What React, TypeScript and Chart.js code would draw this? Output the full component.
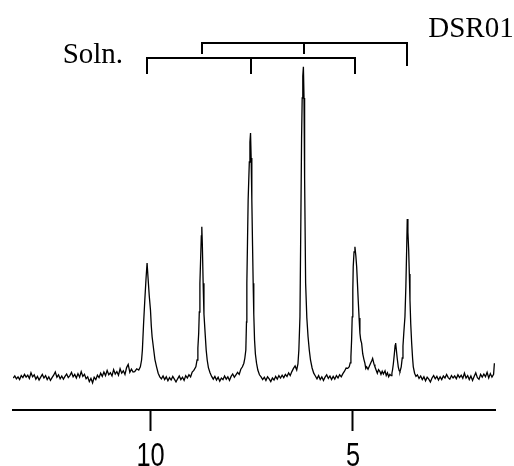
import React, { useEffect, useRef } from 'react';
import { Chart, registerables } from 'chart.js';

Chart.register(...registerables);

// Spectrum: [shift, intensity] (axis reversed, left = high shift)
const spectrum: [number, number][] = [
  [13.38, 0.0], [13.34, 0.5], [13.3, -0.2], [13.26, 0.3], [13.22, -0.4], [13.18, 0.6], [13.14, 0.1], [13.1, 0.9],
  [13.06, 0.2], [13.02, 0.7], [12.98, -0.1], [12.94, 1.3], [12.9, 0.3], [12.86, 0.8], [12.82, -0.3], [12.78, 0.4],
  [12.74, -0.5], [12.7, 0.2], [12.66, 0.9], [12.62, 0.0], [12.58, 0.6], [12.54, -0.4], [12.5, 0.3], [12.46, -0.6],
  [12.42, 0.1], [12.38, 0.7], [12.34, 1.5], [12.3, 0.2], [12.26, 0.8], [12.22, -0.2], [12.18, 0.5], [12.14, -0.3],
  [12.1, 0.4], [12.06, 1.0], [12.02, 0.1], [11.98, 0.6], [11.94, 1.4], [11.9, 0.3], [11.86, 0.9], [11.82, 0.0],
  [11.78, 1.1], [11.74, 0.2], [11.7, 1.6], [11.66, 0.4], [11.62, 0.9], [11.58, -0.2], [11.54, 0.3], [11.5, -0.9],
  [11.46, -0.1], [11.42, -1.2], [11.38, 0.2], [11.34, -0.4], [11.3, 0.7], [11.26, 0.1], [11.22, 1.2], [11.18, 0.4],
  [11.14, 1.5], [11.1, 0.6], [11.06, 1.9], [11.02, 0.8], [10.98, 1.3], [10.94, 0.5], [10.9, 2.1], [10.86, 1.0],
  [10.82, 1.6], [10.78, 0.7], [10.74, 2.3], [10.7, 1.2], [10.66, 1.8], [10.62, 0.9], [10.58, 2.6], [10.54, 3.4],
  [10.5, 1.4], [10.46, 2.2], [10.42, 1.5],
  // peak 1
  [10.38, 1.6], [10.33, 2.3], [10.28, 2.0], [10.24, 2.8], [10.21, 4.5], [10.19, 7.0], [10.16, 13.7], [10.13, 19.5],
  [10.1, 24.8], [10.074, 28.75], [10.05, 25.0], [10.02, 20.5], [9.99, 17.0], [9.97, 13.0], [9.95, 10.3], [9.91, 7.0],
  [9.88, 4.6], [9.84, 2.8], [9.8, 1.2], [9.76, 0.3],
  [9.72, -0.2], [9.68, 0.5], [9.64, -0.4], [9.6, 0.3], [9.56, -0.7], [9.52, 0.1], [9.48, -0.5], [9.44, 0.4],
  [9.4, -0.3], [9.36, -1.0], [9.32, -0.2], [9.28, 0.5], [9.24, -0.4], [9.2, 0.2], [9.16, -0.6], [9.12, 0.6],
  [9.08, 0.0], [9.04, 0.8], [9.0, 0.3], [8.96, 1.5], [8.92, 1.9],
  // peak 2
  [8.87, 2.8], [8.84, 4.5], [8.82, 7.5], [8.8, 11.2], [8.785, 16.5], [8.77, 23.7], [8.75, 30.5], [8.735, 35.5],
  [8.723, 37.8], [8.71, 33.5], [8.69, 23.7], [8.67, 16.0], [8.641, 11.2], [8.615, 7.0], [8.59, 4.5], [8.56, 2.6],
  [8.52, 1.3], [8.48, 0.4],
  [8.44, -0.3], [8.4, 0.4], [8.36, -0.5], [8.32, 0.2], [8.28, -0.8], [8.24, 0.0], [8.2, -0.4], [8.16, 0.5],
  [8.12, -0.3], [8.08, 0.3], [8.04, -0.6], [8.0, 0.4], [7.96, 1.0], [7.92, 0.2], [7.88, 0.8], [7.84, 1.4],
  [7.8, 0.9], [7.76, 2.2],
  // peak 3
  [7.72, 2.8], [7.685, 3.7], [7.66, 5.0], [7.636, 7.0], [7.62, 14.0], [7.611, 23.7], [7.595, 34.0], [7.579, 44.5],
  [7.55, 54.0], [7.535, 59.0], [7.52, 61.25], [7.505, 55.0], [7.488, 44.5], [7.47, 33.0], [7.455, 23.7], [7.44, 16.0],
  [7.421, 9.5], [7.4, 6.0], [7.372, 3.7], [7.34, 2.0], [7.3, 0.8],
  [7.26, 0.3], [7.22, -0.4], [7.18, 0.2], [7.14, -0.6], [7.1, 0.3], [7.06, -0.2], [7.02, -0.9], [6.98, 0.0],
  [6.94, -0.5], [6.9, 0.4], [6.86, -0.3], [6.82, 0.6], [6.78, 0.0], [6.74, 0.7], [6.7, 0.1], [6.66, 0.9],
  [6.62, 0.4], [6.58, 1.3], [6.54, 0.6], [6.5, 1.6], [6.46, 2.4], [6.42, 3.0],
  // peak 4
  [6.38, 2.0], [6.35, 3.5], [6.327, 7.0], [6.3, 15.3], [6.277, 40.3], [6.26, 60.0], [6.245, 70.0], [6.23, 75.5],
  [6.215, 77.8], [6.2, 70.0], [6.185, 50.0], [6.16, 23.7], [6.13, 15.0], [6.1, 10.3], [6.07, 7.0], [6.04, 4.5],
  [6.0, 2.5], [5.96, 1.2],
  [5.92, 0.5], [5.88, -0.2], [5.84, 0.6], [5.8, -0.4], [5.76, 0.3], [5.72, -0.6], [5.68, 0.2], [5.64, 0.8],
  [5.6, -0.1], [5.56, 0.5], [5.52, -0.4], [5.48, 0.4], [5.44, -0.3], [5.4, 0.6], [5.36, 0.0], [5.32, 0.8],
  [5.28, 0.3], [5.24, 1.1], [5.2, 1.7], [5.16, 2.5],
  // peak 5 and shoulder
  [5.12, 2.4], [5.083, 2.8], [5.06, 3.8], [5.042, 5.3], [5.025, 9.5], [5.01, 15.3], [4.995, 22.0], [4.985, 27.8],
  [4.965, 31.5], [4.943, 32.8], [4.92, 30.5], [4.9, 27.8], [4.88, 23.5], [4.862, 19.5], [4.84, 15.0], [4.82, 11.2],
  [4.8, 9.5], [4.778, 8.7], [4.75, 6.0], [4.72, 4.6], [4.697, 3.7], [4.675, 2.4], [4.654, 2.8], [4.62, 2.2],
  [4.58, 3.1], [4.55, 3.8], [4.525, 4.4], [4.506, 4.9], [4.49, 4.2], [4.47, 3.4], [4.449, 2.8],
  [4.42, 2.0], [4.39, 1.2], [4.36, 2.1], [4.326, 1.6], [4.3, 0.9], [4.27, 1.7], [4.24, 1.0], [4.2, 1.8],
  [4.17, 0.6], [4.14, 1.3], [4.11, 0.3], [4.08, 0.9], [4.05, 0.6], [4.03, 1.2],
  // small peak and peak 6
  [4.015, 2.0], [3.995, 3.5], [3.97, 6.0], [3.95, 8.2], [3.938, 8.75], [3.92, 7.0], [3.9, 5.0], [3.873, 2.8],
  [3.85, 1.8], [3.831, 1.6], [3.8, 2.8], [3.775, 5.0], [3.757, 8.0], [3.735, 11.5], [3.708, 15.3], [3.685, 23.0],
  [3.666, 32.0], [3.651, 39.75], [3.635, 36.5], [3.616, 32.0], [3.6, 26.0], [3.584, 19.5], [3.565, 13.5], [3.542, 8.7],
  [3.52, 5.0], [3.502, 2.8], [3.47, 1.2], [3.436, 0.4],
  [3.4, 0.8], [3.36, -0.1], [3.32, 0.5], [3.28, -0.4], [3.24, 0.3], [3.2, -0.7], [3.16, 0.2], [3.12, -0.3],
  [3.08, -1.0], [3.04, 0.0], [3.0, 0.6], [2.96, -0.2], [2.92, 0.4], [2.88, -0.5], [2.84, 0.3], [2.8, -0.4],
  [2.76, 0.5], [2.72, 0.0], [2.68, 0.9], [2.64, 0.1], [2.6, -0.3], [2.56, 0.6], [2.52, 0.0], [2.48, 0.5],
  [2.44, -0.2], [2.4, 0.8], [2.36, 0.1], [2.32, 0.7], [2.28, -0.1], [2.24, 1.2], [2.2, 0.0], [2.16, 0.6],
  [2.12, -0.4], [2.08, 0.5], [2.04, -0.6], [2.0, 0.4], [1.96, 1.3], [1.92, 0.1], [1.88, -0.3], [1.84, 0.9],
  [1.8, 0.2], [1.76, 1.0], [1.72, 0.3], [1.68, 1.4], [1.64, 0.0], [1.6, 1.1], [1.56, 0.2], [1.52, 0.9],
  [1.5, 3.7],
];

const tickValues = [10, 5];
const tickLabels = ['10', '5'];

// Assignment brackets (line positions on the shift axis)
const solnLines = [10.074, 7.52, 4.943];
const solnTickEnds = [76, 76, 76];
const solnLevel = 79.9;
const dsrLines = [8.723, 6.205, 3.651];
const dsrTickEnds = [81, 81, 78];
const dsrLevel = 83.7;
const solnLabel = 'Soln.';
const dsrLabel = 'DSR01';

const xMin = 1.485;
const xMax = 13.384;
const yMin = -8;
const yMax = 94.5;

const bracketPlugin = {
  id: 'brackets',
  afterDraw(chart: any) {
    const { ctx } = chart;
    const xs = chart.scales.x;
    const ys = chart.scales.y;
    ctx.save();
    ctx.strokeStyle = '#000';
    ctx.lineWidth = 2;
    ctx.lineCap = 'butt';
    const draw = (lines: number[], level: number, ends: number[]) => {
      const py = Math.round(ys.getPixelForValue(level));
      const pxs = lines.map((v) => Math.round(xs.getPixelForValue(v)));
      ctx.beginPath();
      ctx.moveTo(pxs[0] - 1, py);
      ctx.lineTo(pxs[pxs.length - 1] + 1, py);
      pxs.forEach((px, i) => {
        ctx.moveTo(px, py);
        ctx.lineTo(px, Math.round(ys.getPixelForValue(ends[i])));
      });
      ctx.stroke();
    };
    draw(dsrLines, dsrLevel, dsrTickEnds);
    draw(solnLines, solnLevel, solnTickEnds);

    ctx.fillStyle = '#000';
    ctx.font = '29px "Liberation Serif", "Times New Roman", serif';
    ctx.textBaseline = 'alphabetic';
    ctx.textAlign = 'right';
    ctx.fillText(solnLabel, xs.getPixelForValue(solnLines[0]) - 24, ys.getPixelForValue(solnLevel) + 4.5);
    ctx.textAlign = 'left';
    ctx.fillText(dsrLabel, xs.getPixelForValue(dsrLines[dsrLines.length - 1]) + 21, ys.getPixelForValue(dsrLevel) - 6);

    // x-axis tick labels (condensed sans, drawn at the scale's tick positions)
    ctx.font = '33px "Liberation Sans", Arial, sans-serif';
    ctx.textAlign = 'center';
    ctx.textBaseline = 'alphabetic';
    const baseY = xs.top + 55.5;
    xs.ticks.forEach((t: any) => {
      const i = tickValues.indexOf(t.value);
      if (i < 0) return;
      ctx.save();
      ctx.translate(xs.getPixelForValue(t.value) + 0.5, baseY);
      ctx.scale(0.77, 1);
      ctx.fillText(tickLabels[i], 0, 0);
      ctx.restore();
    });
    ctx.restore();
  },
};

export default function App() {
  const ref = useRef<HTMLCanvasElement | null>(null);

  useEffect(() => {
    document.body.style.margin = '0';
    const canvas = ref.current;
    if (!canvas) return;
    const chart = new Chart(canvas, {
      type: 'line',
      data: {
        datasets: [
          {
            data: spectrum.map(([x, y]) => ({ x, y })),
            borderColor: '#000',
            borderWidth: 1.3,
            pointRadius: 0,
            tension: 0,
            fill: false,
          },
        ],
      },
      options: {
        animation: false,
        responsive: false,
        layout: { padding: { left: 13, right: 19, top: 0, bottom: 0 } },
        plugins: { legend: { display: false }, tooltip: { enabled: false } },
        scales: {
          x: {
            type: 'linear',
            reverse: true,
            min: xMin,
            max: xMax,
            position: 'bottom',
            afterBuildTicks: (s: any) => {
              s.ticks = tickValues.map((v) => ({ value: v }));
            },
            afterFit: (s: any) => {
              s.height = 56;
            },
            grid: {
              drawOnChartArea: false,
              drawTicks: true,
              tickLength: 21,
              tickWidth: 2,
              tickColor: '#000',
            },
            border: { display: true, color: '#000', width: 2 },
            ticks: { display: false },
          },
          y: { display: false, min: yMin, max: yMax },
        },
      },
      plugins: [bracketPlugin],
    } as any);
    return () => chart.destroy();
  }, []);

  return (
    <div style={{ position: 'fixed', left: 0, top: 0, width: 514, height: 466, background: '#fff' }}>
      <canvas ref={ref} width={514} height={466} style={{ display: 'block' }} />
    </div>
  );
}
